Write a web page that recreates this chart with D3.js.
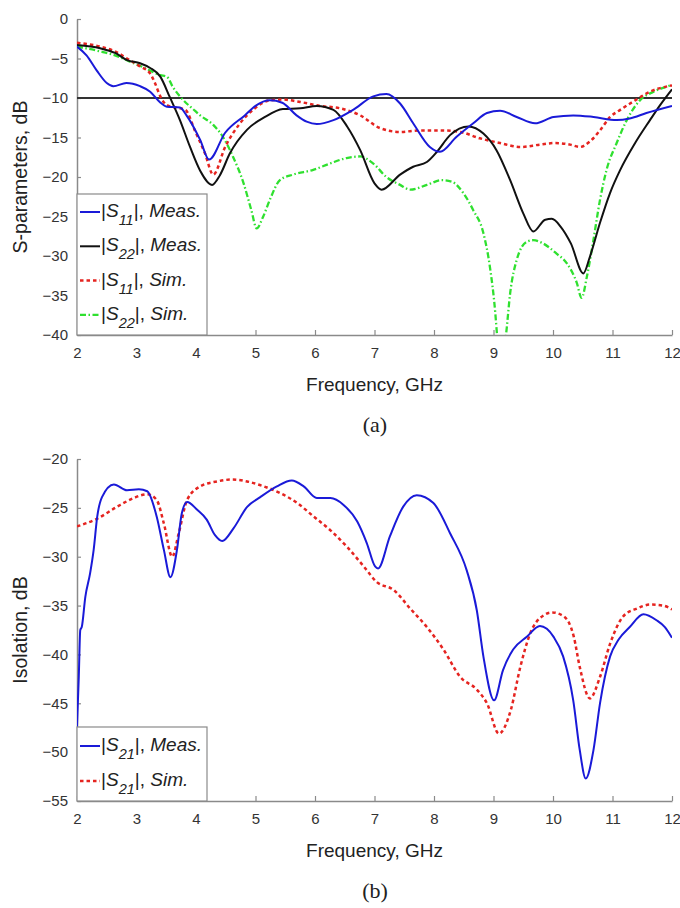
<!DOCTYPE html>
<html>
<head>
<meta charset="utf-8">
<script src="https://cdn.jsdelivr.net/npm/d3@7"></script>
<style>
body { margin: 0; background: #fff; }
text { font-family: "Liberation Sans", Arial, sans-serif; }
</style>
</head>
<body>
<svg id="chart" width="680" height="908"></svg>
<script>
// values, [frequency GHz, dB]
var s11Meas = [[2.00,-3.5],[2.16,-4.6],[2.33,-6.5],[2.50,-8.1],[2.61,-8.5],[2.83,-8.1],[3.06,-8.5],[3.23,-9.2],[3.39,-10.5],[3.51,-11.1],[3.73,-11.2],[3.84,-12.2],[4.07,-15.3],[4.22,-17.8],[4.49,-14.4],[4.82,-12.2],[5.00,-11.0],[5.24,-10.3],[5.45,-10.6],[5.69,-12.2],[5.86,-13.0],[6.03,-13.3],[6.31,-12.8],[6.64,-11.5],[6.98,-9.8],[7.20,-9.5],[7.43,-10.7],[7.65,-13.2],[7.93,-16.2],[8.10,-16.8],[8.38,-14.9],[8.66,-13.2],[8.89,-11.9],[9.11,-11.6],[9.39,-12.4],[9.70,-13.2],[10.01,-12.4],[10.34,-12.2],[10.68,-12.4],[11.07,-12.8],[11.29,-12.6],[11.57,-11.9],[12.00,-11.0]];
var s22Meas = [[2.00,-3.3],[2.39,-3.7],[2.64,-4.3],[2.84,-5.2],[3.06,-5.6],[3.23,-6.2],[3.40,-7.3],[3.56,-9.9],[3.73,-12.8],[3.90,-16.2],[4.07,-19.2],[4.27,-21.0],[4.40,-19.8],[4.57,-17.0],[4.86,-14.0],[5.16,-12.4],[5.46,-11.4],[5.75,-11.3],[6.03,-11.0],[6.31,-11.5],[6.54,-13.6],[6.76,-16.6],[7.00,-20.8],[7.12,-21.6],[7.43,-19.7],[7.65,-18.7],[7.88,-18.1],[8.05,-16.8],[8.27,-14.7],[8.58,-13.6],[8.83,-14.5],[9.05,-16.6],[9.28,-20.4],[9.50,-24.6],[9.67,-26.9],[9.87,-25.4],[9.98,-25.3],[10.13,-26.3],[10.30,-28.4],[10.51,-32.2],[10.62,-30.1],[10.79,-25.8],[10.96,-22.0],[11.13,-19.1],[11.38,-15.7],[11.63,-12.8],[11.80,-10.9],[12.00,-8.9]];
var s11Sim = [[2.00,-3.0],[2.39,-3.5],[2.64,-4.1],[2.84,-5.0],[3.06,-6.0],[3.23,-6.9],[3.31,-8.1],[3.40,-9.8],[3.51,-10.9],[3.65,-11.2],[3.82,-11.5],[3.98,-14.1],[4.15,-17.0],[4.29,-19.7],[4.49,-16.2],[4.74,-13.2],[4.99,-11.3],[5.24,-10.3],[5.46,-10.2],[5.75,-10.5],[6.08,-11.0],[6.42,-11.3],[6.76,-12.2],[7.09,-13.8],[7.43,-14.3],[7.76,-14.1],[8.10,-14.1],[8.44,-14.3],[8.77,-15.1],[9.11,-15.7],[9.45,-16.2],[9.78,-15.9],[10.03,-15.7],[10.29,-15.9],[10.45,-16.2],[10.62,-15.5],[10.79,-14.1],[10.96,-12.4],[11.13,-11.5],[11.38,-10.3],[11.63,-9.2],[12.00,-8.4]];
var s22Sim = [[2.00,-3.5],[2.39,-4.1],[2.64,-4.6],[2.89,-5.4],[3.14,-6.2],[3.40,-7.1],[3.51,-7.3],[3.61,-8.6],[3.73,-9.8],[3.98,-11.6],[4.07,-12.2],[4.29,-13.4],[4.45,-14.9],[4.62,-17.4],[4.80,-20.8],[4.93,-24.2],[5.02,-26.5],[5.13,-25.0],[5.24,-22.9],[5.41,-20.4],[5.63,-19.7],[5.97,-19.1],[6.25,-18.3],[6.53,-17.6],[6.76,-17.4],[6.98,-18.3],[7.20,-20.0],[7.43,-21.0],[7.60,-21.6],[7.88,-21.0],[8.13,-20.4],[8.30,-20.6],[8.49,-22.0],[8.66,-24.2],[8.83,-27.1],[8.94,-31.4],[9.03,-37.2],[9.06,-40.0],[9.13,-44.0],[9.21,-40.0],[9.28,-34.7],[9.39,-30.5],[9.56,-28.2],[9.67,-28.0],[9.83,-28.4],[10.06,-29.7],[10.23,-30.9],[10.40,-33.4],[10.48,-35.3],[10.57,-32.6],[10.67,-28.4],[10.79,-22.9],[10.90,-19.1],[11.07,-15.7],[11.24,-12.8],[11.46,-10.3],[11.69,-9.2],[11.97,-8.4],[12.00,-8.3]];

var s21Meas = [[2.00,-47.4],[2.03,-42.3],[2.055,-37.5],[2.08,-37.2],[2.14,-34.1],[2.22,-31.7],[2.28,-29.3],[2.34,-25.9],[2.42,-23.9],[2.62,-22.6],[2.84,-23.2],[3.04,-23.1],[3.18,-23.3],[3.34,-25.9],[3.46,-29.3],[3.57,-32.1],[3.68,-29.3],[3.76,-25.6],[3.85,-24.4],[4.02,-25.2],[4.18,-26.2],[4.32,-27.8],[4.44,-28.4],[4.63,-27.1],[4.86,-24.9],[5.08,-23.9],[5.36,-22.8],[5.61,-22.2],[5.81,-22.8],[6.03,-24.0],[6.26,-24.0],[6.48,-24.7],[6.71,-26.4],[6.87,-28.6],[7.01,-31.0],[7.06,-31.2],[7.26,-27.9],[7.48,-24.9],[7.71,-23.7],[7.99,-24.5],[8.27,-27.6],[8.55,-31.4],[8.72,-35.5],[8.83,-40.2],[9.01,-44.7],[9.16,-41.6],[9.33,-39.5],[9.56,-38.2],[9.78,-37.1],[10.01,-38.2],[10.17,-40.2],[10.34,-44.7],[10.45,-49.8],[10.55,-52.7],[10.68,-49.8],[10.79,-45.0],[10.96,-40.2],[11.10,-38.5],[11.29,-37.2],[11.52,-35.9],[11.74,-36.5],[11.88,-37.2],[12.00,-38.3]];
var s21Sim = [[2.00,-26.9],[2.34,-26.1],[2.67,-24.9],[2.95,-24.0],[3.18,-23.6],[3.34,-24.2],[3.46,-26.6],[3.60,-30.0],[3.71,-27.6],[3.85,-24.2],[4.07,-22.8],[4.35,-22.3],[4.61,-22.1],[4.86,-22.3],[5.14,-22.8],[5.42,-23.5],[5.70,-24.5],[5.98,-25.9],[6.26,-27.3],[6.54,-29.0],[6.82,-31.0],[7.04,-32.6],[7.32,-33.4],[7.60,-35.3],[7.88,-37.2],[8.16,-39.5],[8.44,-42.3],[8.72,-43.6],[8.89,-45.0],[9.09,-48.1],[9.29,-45.7],[9.45,-41.3],[9.62,-37.8],[9.84,-36.0],[9.98,-35.7],[10.18,-36.1],[10.35,-38.2],[10.45,-41.3],[10.62,-44.5],[10.79,-42.3],[10.96,-38.9],[11.18,-36.1],[11.41,-35.3],[11.63,-34.9],[11.85,-35.0],[12.00,-35.4]];

var freqTicks = [2,3,4,5,6,7,8,9,10,11,12];
var topTicks = [0,-5,-10,-15,-20,-25,-30,-35,-40];
var botTicks = [-20,-25,-30,-35,-40,-45,-50,-55];
var topSubs = ["11","22","11","22"];
var topKinds = ["Meas.","Meas.","Sim.","Sim."];
var botSubs = ["21","21"];
var botKinds = ["Meas.","Sim."];

var BLUE = "#1a1ad8", BLACK = "#111", RED = "#e52420", GREEN = "#2fe02f";

var svg = d3.select("#chart");
var x = d3.scaleLinear().domain([2, 12]).range([77, 672]);
var yTop = d3.scaleLinear().domain([-40, 0]).range([335, 19]);
var yBot = d3.scaleLinear().domain([-55, -20]).range([801, 459]);

function drawAxes(y, yTicks, yLabel, tag, labelY, tagY) {
    var bottom = y.range()[0];
    var gx = svg.append("g")
        .attr("transform", "translate(0," + bottom + ")")
        .call(d3.axisBottom(x).tickValues(freqTicks).tickFormat(d3.format("d"))
            .tickSizeInner(-5).tickSizeOuter(0).tickPadding(12));
    var gy = svg.append("g")
        .attr("transform", "translate(77,0)")
        .call(d3.axisLeft(y).tickValues(yTicks).tickFormat(d3.format("d"))
            .tickSizeInner(-4).tickSizeOuter(0).tickPadding(9));
    [gx, gy].forEach(function(g){
        g.attr("font-family", null).attr("font-size", null);
        g.select(".domain").attr("stroke", "#8a8a8a").attr("stroke-width", 1.5);
        g.selectAll(".tick line").attr("stroke", "#8a8a8a").attr("stroke-width", 1.2);
        g.selectAll(".tick text").attr("font-size", 15).attr("fill", "#333");
    });

    svg.append("text").attr("x", 374.5).attr("y", labelY)
        .attr("text-anchor", "middle").attr("font-size", 19).attr("fill", "#222")
        .text("Frequency, GHz");
    var mid = (y.range()[0] + y.range()[1]) / 2;
    svg.append("text")
        .attr("transform", "translate(27," + mid + ") rotate(-90)")
        .attr("text-anchor", "middle").attr("font-size", 19.5).attr("fill", "#222")
        .text(yLabel);
    svg.append("text").attr("x", 375).attr("y", tagY)
        .attr("text-anchor", "middle").attr("font-size", 22).attr("fill", "#222")
        .style("font-family", "'Liberation Serif', 'Times New Roman', serif")
        .text(tag);
}

function addClip(id, y) {
    svg.append("clipPath").attr("id", id).append("rect")
        .attr("x", x.range()[0]).attr("y", y.range()[1])
        .attr("width", x.range()[1] - x.range()[0])
        .attr("height", y.range()[0] - y.range()[1]);
}

function drawSeries(y, data, color, dash, width, clipId) {
    var line = d3.line()
        .x(function(d){ return x(d[0]); })
        .y(function(d){ return y(d[1]); })
        .curve(d3.curveMonotoneX);
    svg.append("path").datum(data)
        .attr("d", line)
        .attr("fill", "none")
        .attr("stroke", color)
        .attr("stroke-width", width)
        .attr("stroke-dasharray", dash)
        .attr("stroke-linejoin", "round")
        .attr("clip-path", "url(#" + clipId + ")");
}

function drawLegend(top, bottom, firstBase, step, styles, subs, kinds) {
    svg.append("rect").attr("x", 77).attr("y", top)
        .attr("width", 130).attr("height", bottom - top)
        .attr("fill", "#fff").attr("stroke", "#8a8a8a").attr("stroke-width", 1.2);
    for (var i = 0; i < subs.length; i++) {
        var base = firstBase + i * step;
        svg.append("line").attr("x1", 80).attr("x2", 100)
            .attr("y1", base - 5).attr("y2", base - 5)
            .attr("stroke", styles[i].color).attr("stroke-width", styles[i].width)
            .attr("stroke-dasharray", styles[i].dash);
        var t = svg.append("text").attr("x", 101).attr("y", base)
            .attr("font-size", 19).attr("fill", "#222");
        t.append("tspan").text("|");
        t.append("tspan").attr("font-style", "italic").text("S");
        t.append("tspan").attr("font-style", "italic").attr("font-size", 14.5).attr("dy", 8).text(subs[i]);
        t.append("tspan").attr("dy", -8).text("|, ");
        t.append("tspan").attr("font-style", "italic").text(kinds[i]);
    }
}

var styleBlue = {color: BLUE, dash: null, width: 2};
var styleBlack = {color: BLACK, dash: null, width: 2};
var styleRed = {color: RED, dash: "3.5,3", width: 2.5};
var styleGreen = {color: GREEN, dash: "6,2.5,1.5,2.5", width: 2.3};

// (a) S-parameters
addClip("clipTop", yTop);
drawAxes(yTop, topTicks, "S-parameters, dB", "(a)", 391, 432);
svg.append("line").attr("x1", x(2)).attr("x2", x(12))
    .attr("y1", yTop(-10)).attr("y2", yTop(-10))
    .attr("stroke", "#333").attr("stroke-width", 2);
drawSeries(yTop, s22Sim, GREEN, styleGreen.dash, styleGreen.width, "clipTop");
drawSeries(yTop, s11Sim, RED, styleRed.dash, styleRed.width, "clipTop");
drawSeries(yTop, s22Meas, BLACK, null, 2, "clipTop");
drawSeries(yTop, s11Meas, BLUE, null, 2, "clipTop");
drawLegend(194, 335, 217, 34.3, [styleBlue, styleBlack, styleRed, styleGreen], topSubs, topKinds);

// (b) isolation
addClip("clipBot", yBot);
drawAxes(yBot, botTicks, "Isolation, dB", "(b)", 857, 898);
drawSeries(yBot, s21Sim, RED, styleRed.dash, styleRed.width, "clipBot");
drawSeries(yBot, s21Meas, BLUE, null, 2, "clipBot");
drawLegend(727, 801, 751, 35, [styleBlue, styleRed], botSubs, botKinds);
</script>
</body>
</html>
